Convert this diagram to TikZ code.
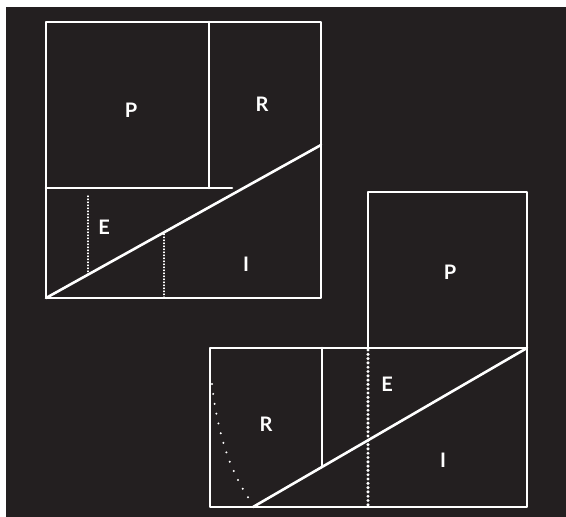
\documentclass[tikz,border=0pt]{standalone}
\usepackage{fontspec}
\setmainfont{Lato}
\definecolor{board}{HTML}{231F20}
\begin{document}
\begin{tikzpicture}[x=1pt, y=-1pt, line join=round, line cap=round,
    edge/.style={draw=white, line width=2.6pt},
    fine dots/.style={draw=white, line width=1.5pt, dash pattern=on 0.6pt off 2.4pt},
    thick dots/.style={draw=white, line width=3.4pt, dash pattern=on 0pt off 4.3pt},
    wide dots/.style={draw=white, line width=2.2pt, dash pattern=on 0pt off 10pt},
    lab/.style={text=white, font=\fontsize{20}{20}\selectfont\bfseries}]
    % fond
    \useasboundingbox (0,0) rectangle (566,517);
    \fill[white] (0,0) rectangle (566,517);
    \fill[board] (6,7) rectangle (566,517);

    % ====== CARRE DU HAUT ======
    \begin{scope}
        % cadre et partages
        \draw[edge] (46,22) rectangle (321,298);
        \draw[edge] (209,22) -- (209,188);
        \draw[edge] (46,188) -- (232,188);
        \draw[edge] (46,298) -- (321,145); % diagonale
        % pointilles
        \draw[fine dots] (88,196) -- (88,274);
        \draw[fine dots] (164,234) -- (164,297);
        % lettres
        \node[lab] (p1) at (131,110) {P};
        \node[lab] (r1) at (262,104) {R};
        \node[lab] (e1) at (104,227) {E};
        \node[lab] (i1) at (246,264) {I};
    \end{scope}

    % ====== CARRE DU BAS ======
    \begin{scope}
        % cadre et partages
        \draw[edge] (368,192) rectangle (527,348);
        \draw[edge] (210,348) rectangle (527,507);
        \draw[edge] (322,348) -- (322,466);
        \draw[edge] (253,507) -- (527,348); % diagonale
        % pointilles
        \draw[thick dots] (368,350) -- (368,505);
        \draw[wide dots] (212,384) .. controls (218,440) and (234,478) .. (250,500);
        % lettres
        \node[lab] (p2) at (450,272) {P};
        \node[lab] (e2) at (387,384) {E};
        \node[lab] (r2) at (266,424) {R};
        \node[lab] (i2) at (443,460) {I};
    \end{scope}
\end{tikzpicture}
\end{document}
